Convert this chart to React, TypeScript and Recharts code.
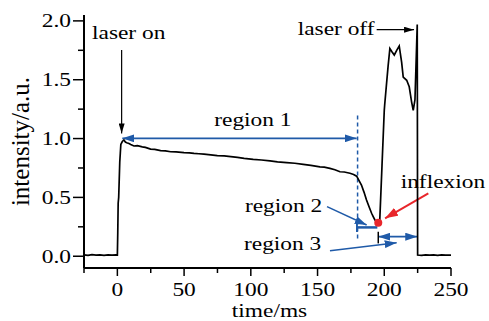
import React from "react";
import { LineChart, Line, XAxis, YAxis, ReferenceLine, ReferenceDot } from "recharts";

// time (ms) of each sample
const TIME = [
  -25, -22, -19, -16, -13, -10, -7, -4, -1, 0, 0.3, 0.6, 1, 1.8, 2.6, 3.7, 4.9, 6, 7, 8.7,
  10, 12.4, 15, 18.7, 21, 24.9, 28, 32.4, 36, 39.9, 44, 49.9, 54, 57.4, 61, 64.9, 70, 74.9,
  80, 85, 90, 95, 101.8, 108, 114.4, 120, 126.9, 133, 139.3, 145, 151.8, 155, 159.3, 163,
  166.8, 170, 174.3, 177, 179.3, 181, 182.9, 184.8, 186.7, 188.6, 190.5, 191.8, 193, 194.3,
  195.5, 196.6, 198.3, 200, 200.3, 201.8, 202.9, 204.2, 205.6, 207.5, 209.3, 211.2, 213,
  214.2, 216.8, 218.7, 220.5, 221.7, 223, 224.7, 225, 228, 231, 234, 237, 240, 243, 246, 250,
];

// intensity (a.u.) at each sample
const INTENSITY = [
  0.012, 0.008, 0.013, 0.009, 0.012, 0.007, 0.012, 0.009, 0.011, 0.01, 0.2, 0.45, 0.5, 0.8,
  0.95, 0.975, 0.988, 0.97, 0.965, 0.958, 0.95, 0.937, 0.94, 0.93, 0.925, 0.91, 0.908, 0.897,
  0.895, 0.888, 0.886, 0.88, 0.878, 0.874, 0.871, 0.868, 0.862, 0.855, 0.853, 0.846, 0.84,
  0.832, 0.823, 0.818, 0.81, 0.802, 0.795, 0.79, 0.78, 0.772, 0.76, 0.757, 0.747, 0.735,
  0.718, 0.716, 0.705, 0.695, 0.68, 0.645, 0.605, 0.545, 0.478, 0.42, 0.365, 0.335, 0.308,
  0.293, 0.285, 0.3, 0.77, 1.24, 1.285, 1.48, 1.62, 1.765, 1.74, 1.71, 1.75, 1.787, 1.65,
  1.523, 1.495, 1.44, 1.31, 1.24, 1.33, 1.97, 0.01, 0.008, 0.012, 0.009, 0.012, 0.008,
  0.011, 0.009, 0.01,
];

const X_TICKS = [-25, 0, 25, 50, 75, 100, 125, 150, 175, 200, 225, 250];
const Y_TICKS = [0, 0.25, 0.5, 0.75, 1, 1.25, 1.5, 1.75, 2];

// text annotations: [label, time, intensity]
const NOTES: [string, number, number][] = [
  ["laser on", -19, 1.846],
  ["laser off", 135.1, 1.88],
  ["region 1", 72.6, 1.106],
  ["region 2", 95.6, 0.378],
  ["region 3", 94.9, 0.053],
  ["inflexion", 212.3, 0.577],
];

const INFLEXION = { t: 195.5, v: 0.285 };

const data = TIME.map((t, i) => ({ t, v: INTENSITY[i] }));

const SERIF = '"Liberation Serif", "Times New Roman", Times, serif';
const FONT = { fontFamily: SERIF };
const BLUE = "#1f5aa8";
const RED = "#e8262b";

// the original figure is a bit wider than tall, so text is stretched sideways
const SText = ({ x, y, anchor = "start", size = 19.5, sx = 1.2, children }: any) => (
  <text
    transform={`translate(${x} ${y}) scale(${sx} 1)`}
    textAnchor={anchor}
    fontSize={size}
    style={FONT}
    fill="#000"
  >
    {children}
  </text>
);

const XTick = (p: any) => {
  const { x, y, payload } = p;
  const major = payload.value % 50 === 0;
  return (
    <g>
      <line x1={x} x2={x} y1={y} y2={y + (major ? 8 : 5)} stroke="#000" strokeWidth={1.5} />
      {major && (
        <SText x={x} y={y + 28} anchor="middle">
          {payload.value}
        </SText>
      )}
    </g>
  );
};

const YTick = (p: any) => {
  const { x, y, payload } = p;
  const major = (payload.value * 2) % 1 === 0;
  return (
    <g>
      <line x1={x - (major ? 11 : 6)} x2={x} y1={y} y2={y} stroke="#000" strokeWidth={1.5} />
      {major && (
        <SText x={x - 13} y={y + 6.6} anchor="end">
          {payload.value.toFixed(1)}
        </SText>
      )}
    </g>
  );
};

const seg = (
  key: string,
  a: [number, number],
  b: [number, number],
  color: string,
  width: number,
  start?: string,
  end?: string,
  dash?: string
) => (
  <ReferenceLine
    key={key}
    segment={[{ x: a[0], y: a[1] }, { x: b[0], y: b[1] }]}
    ifOverflow="visible"
    shape={(p: any) => (
      <line
        x1={p.x1}
        y1={p.y1}
        x2={p.x2}
        y2={p.y2}
        stroke={color}
        strokeWidth={width}
        strokeDasharray={dash}
        markerStart={start ? `url(#${start})` : undefined}
        markerEnd={end ? `url(#${end})` : undefined}
      />
    )}
  />
);

const Markers = () => (
  <svg width={0} height={0} style={{ position: "absolute" }}>
    <defs>
      <marker id="hBlack" markerUnits="userSpaceOnUse" viewBox="0 0 10 6" refX={10} refY={3} markerWidth={10} markerHeight={6} orient="auto-start-reverse">
        <path d="M0,0 L10,3 L0,6 z" fill="#000" />
      </marker>
      <marker id="hBlue" markerUnits="userSpaceOnUse" viewBox="0 0 12 8" refX={12} refY={4} markerWidth={12} markerHeight={8} orient="auto-start-reverse">
        <path d="M0,0 L12,4 L0,8 z" fill={BLUE} />
      </marker>
      <marker id="hRed" markerUnits="userSpaceOnUse" viewBox="0 0 13 9" refX={13} refY={4.5} markerWidth={13} markerHeight={9} orient="auto-start-reverse">
        <path d="M0,0 L13,4.5 L0,9 z" fill={RED} />
      </marker>
      <marker id="barBlue" markerUnits="userSpaceOnUse" viewBox="0 0 2 10" refX={1} refY={5} markerWidth={2} markerHeight={10} orient="auto">
        <path d="M1,0 L1,10" stroke={BLUE} strokeWidth={2} />
      </marker>
    </defs>
  </svg>
);

export default function App() {
  return (
    <div style={{ position: "absolute", left: 0, top: 0, background: "#fff", fontFamily: SERIF }}>
      <Markers />
      <LineChart width={489} height={321} data={data} margin={{ top: 15, right: 38, left: 0, bottom: 0 }} style={FONT}>
        <XAxis
          type="number"
          dataKey="t"
          domain={[-25, 250]}
          ticks={X_TICKS}
          interval={0}
          height={53}
          tickSize={0}
          tickMargin={0}
          tickLine={false}
          axisLine={{ stroke: "#000", strokeWidth: 2 }}
          tick={<XTick />}
          label={{
            value: "time/ms",
            position: "insideBottom",
            content: (p: any) => (
              <SText
                x={p.viewBox.x + p.viewBox.width / 2 + 2}
                y={p.viewBox.y + p.viewBox.height - 4}
                anchor="middle"
                size={18}
                sx={1.3}
              >
                time/ms
              </SText>
            ),
          }}
        />
        <YAxis
          type="number"
          domain={[-0.1, 2.05]}
          allowDataOverflow
          ticks={Y_TICKS}
          interval={0}
          width={84}
          tickSize={0}
          tickMargin={0}
          tickLine={false}
          axisLine={{ stroke: "#000", strokeWidth: 2 }}
          tick={<YTick />}
          label={{
            value: "intensity/a.u.",
            angle: -90,
            position: "insideLeft",
            offset: 20,
            fontSize: 25,
            fill: "#000",
            style: { textAnchor: "middle", fontFamily: SERIF },
          }}
        />
        {seg("dash", [180, 0.15], [180, 1.22], BLUE, 1.5, undefined, undefined, "4 3")}
        {seg("r1", [3.7, 1.002], [179.3, 1.002], BLUE, 1.8, "hBlue", "hBlue")}
        {seg("r2", [179.5, 0.245], [194.8, 0.245], BLUE, 2.5, "barBlue")}
        {seg("r3", [195.5, 0.166], [224.7, 0.166], BLUE, 1.8, "hBlue", "hBlue")}
        {seg("tick3", [195.5, 0.208], [195.5, 0.109], "#000", 1.5)}
        {seg("a2", [157.1, 0.421], [186.8, 0.265], BLUE, 1.5, undefined, "hBlue")}
        {seg("a3", [159.3, 0.047], [209.3, 0.115], BLUE, 1.5, undefined, "hBlue")}
        {seg("aInf", [233, 0.535], [200.6, 0.322], RED, 2, undefined, "hRed")}
        {seg("on", [3.2, 1.752], [3.2, 1.044], "#000", 1.2, undefined, "hBlack")}
        {seg("off", [194.3, 1.925], [222.3, 1.925], "#000", 1.2, undefined, "hBlack")}
        <Line type="linear" dataKey="v" stroke="#000" strokeWidth={1.7} dot={false} isAnimationActive={false} />
        <ReferenceDot x={INFLEXION.t} y={INFLEXION.v} r={4} fill={RED} stroke="none" />
        {NOTES.map(([label, t, v]) => (
          <ReferenceDot
            key={label}
            x={t}
            y={v}
            r={0}
            ifOverflow="visible"
            shape={(p: any) => (
              <SText x={p.cx} y={p.cy}>
                {label}
              </SText>
            )}
          />
        ))}
      </LineChart>
    </div>
  );
}
